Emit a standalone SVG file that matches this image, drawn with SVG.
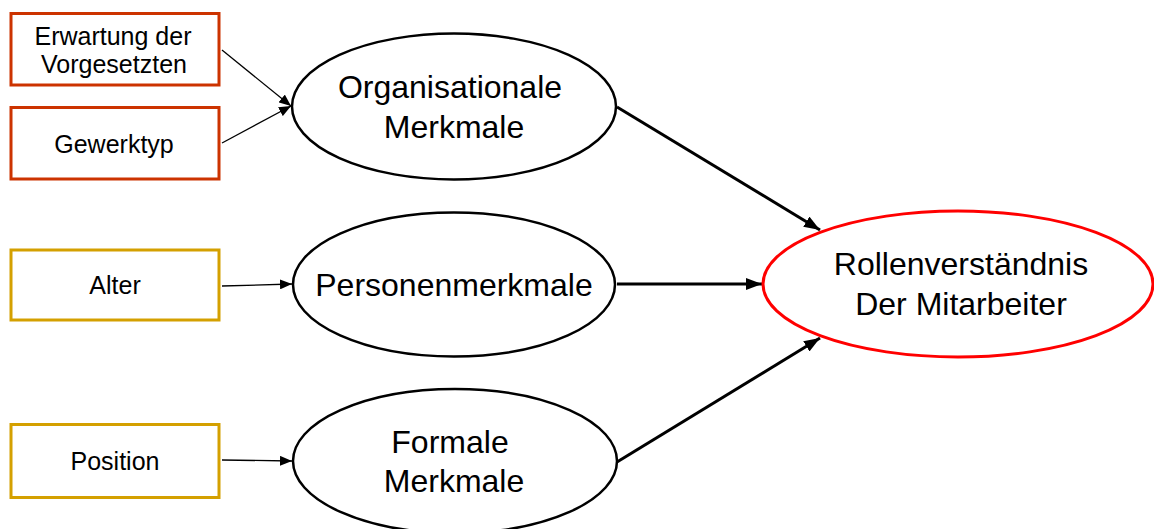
<svg xmlns="http://www.w3.org/2000/svg" width="1154" height="529" viewBox="0 0 1154 529">
<style>
.box{fill:#fff;stroke-width:3}
.red{stroke:#cc3300}
.gold{stroke:#d4a000}
.ell{fill:#fff;stroke:#000;stroke-width:2.5}
.st{font-family:"Liberation Sans",Arial,sans-serif;font-size:25px;fill:#000;text-anchor:middle}
.bt{font-family:"Liberation Sans",Arial,sans-serif;font-size:32px;fill:#000;text-anchor:middle}
.thin{stroke:#000;stroke-width:1.3;fill:none}
.thick{stroke:#000;stroke-width:3;fill:none}
</style>
<defs>
<marker id="ah" markerUnits="userSpaceOnUse" markerWidth="12" markerHeight="10" refX="12" refY="5" orient="auto">
<path d="M0,0 L12,5 L0,10 Z" fill="#000"/>
</marker>
<marker id="ahb" markerUnits="userSpaceOnUse" markerWidth="16" markerHeight="12" refX="16" refY="6" orient="auto">
<path d="M0,0 L16,6 L0,12 Z" fill="#000"/>
</marker>
</defs>
<rect width="1154" height="529" fill="#fff"/>
<g id="connectors">
<line class="thin" x1="222" y1="50" x2="291" y2="106" marker-end="url(#ah)"/>
<line class="thin" x1="222" y1="143" x2="291" y2="106" marker-end="url(#ah)"/>
<line class="thin" x1="222" y1="286" x2="292" y2="284" marker-end="url(#ah)"/>
<line class="thin" x1="222" y1="460" x2="292" y2="461" marker-end="url(#ah)"/>
<line class="thick" x1="617" y1="107" x2="820" y2="230" marker-end="url(#ahb)"/>
<line class="thick" x1="617" y1="284" x2="762" y2="284" marker-end="url(#ahb)"/>
<line class="thick" x1="617" y1="462" x2="820" y2="338" marker-end="url(#ahb)"/>
</g>
<g id="erwartung">
<rect class="box red" x="11" y="13.5" width="208" height="71.5"/>
<text class="st" x="113" y="45">Erwartung der</text>
<text class="st" x="114" y="73">Vorgesetzten</text>
</g>
<g id="gewerktyp">
<rect class="box red" x="11" y="107.5" width="208" height="71.5"/>
<text class="st" x="114" y="153">Gewerktyp</text>
</g>
<g id="alter">
<rect class="box gold" x="11" y="250" width="208" height="70"/>
<text class="st" x="115" y="294">Alter</text>
</g>
<g id="position">
<rect class="box gold" x="11" y="424.5" width="208" height="73"/>
<text class="st" x="115" y="470">Position</text>
</g>
<g id="organisationale">
<ellipse class="ell" cx="454" cy="106.5" rx="162" ry="73"/>
<text class="bt" x="450" y="98">Organisationale</text>
<text class="bt" x="454" y="138">Merkmale</text>
</g>
<g id="personenmerkmale">
<ellipse class="ell" cx="454" cy="284.5" rx="161" ry="72"/>
<text class="bt" x="454" y="296">Personenmerkmale</text>
</g>
<g id="formale">
<ellipse class="ell" cx="455" cy="461" rx="162" ry="72"/>
<text class="bt" x="450" y="453">Formale</text>
<text class="bt" x="454" y="492">Merkmale</text>
</g>
<g id="rollenverstaendnis">
<ellipse cx="958" cy="284" rx="195" ry="73" fill="#fff" stroke="#ff0000" stroke-width="3"/>
<text class="bt" x="961" y="275">Rollenverständnis</text>
<text class="bt" x="961" y="315">Der Mitarbeiter</text>
</g>
</svg>
